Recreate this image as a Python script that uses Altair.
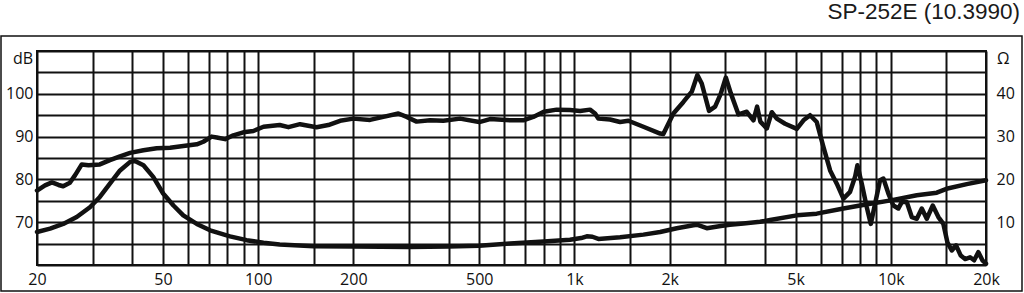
import json
import altair as alt
import pandas as pd

# ---------------- data ----------------
spl_freq = [20, 21.2, 22.3, 23.4, 24.2, 25.4, 26.4, 27.7, 29.1, 31.6, 34, 36.6, 39.4, 43.4,
            47.8, 52.7, 58, 64, 67.1, 71.3, 74, 78.6, 83.5, 89.8, 96.6, 104, 117, 124.7,
            135.7, 153, 166.7, 181.6, 200, 225.8, 248.8, 277.6, 295, 317, 349.6, 385, 435,
            500, 541, 626, 689, 741, 800, 879, 968, 1042, 1120, 1162, 1190, 1296, 1394,
            1481, 1652, 1866, 1910, 2055, 2210, 2349, 2447, 2526, 2664, 2784, 2900, 3010,
            3122, 3298, 3506, 3680, 3780, 3870, 4056, 4206, 4362, 4634, 5046, 5298, 5558,
            5834, 6124, 6430, 6750, 7084, 7436, 7712, 7844, 8098, 8398, 8646, 8920, 9250,
            9476, 9828, 10192, 10568, 10834, 11236, 11652, 12084, 12532, 12996, 13576,
            14142, 14666, 15100, 15590, 16086, 16644, 17174, 17810, 18342, 18924, 19484,
            20000]
spl_db = [77.4, 78.6, 79.3, 78.7, 78.4, 79.2, 81.0, 83.5, 83.3, 83.5, 84.5, 85.4, 86.2, 86.8,
          87.3, 87.4, 87.8, 88.2, 88.8, 90.0, 89.8, 89.4, 90.3, 91.0, 91.3, 92.3, 92.7, 92.2,
          92.9, 92.2, 92.7, 93.7, 94.2, 93.9, 94.6, 95.4, 94.6, 93.5, 93.8, 93.7, 94.2,
          93.4, 94.1, 93.8, 93.8, 94.6, 95.8, 96.3, 96.2, 96.0, 96.3, 95.4, 94.2, 94.0, 93.4,
          93.7, 92.3, 90.7, 90.6, 95.4, 98.1, 100.5, 104.4, 102.4, 96.0, 97.0, 100.0, 103.8,
          100.1, 95.2, 95.8, 93.8, 97.0, 93.5, 91.9, 95.7, 94.2, 93.0, 91.8, 93.8, 95.0,
          93.4, 87.6, 82.1, 79.0, 75.5, 77.1, 80.6, 83.3, 79.0, 73.5, 69.6, 74.3, 79.8,
          80.2, 76.7, 73.9, 73.2, 74.7, 74.7, 71.2, 70.8, 73.2, 70.8, 73.9,
          71.2, 69.6, 65.3, 63.4, 64.6, 62.2, 61.4, 61.8, 61.1, 63.0, 61.1,
          60.3]

imp_freq = [20, 22, 24.2, 26.7, 29.4, 31.6, 34, 36.6, 39.4, 40.8, 43.4, 46.6, 50.1, 54, 58,
            64, 70.5, 81.5, 92, 104, 117, 150, 200, 300, 400, 500, 626, 800, 968, 1050, 1094,
            1140, 1190, 1394, 1652, 1866, 2106, 2377, 2450, 2620, 2900, 3100, 3422, 3862,
            4154, 5046, 5834, 7084, 8000, 10000, 12084, 13980, 15000, 17386, 20000]
imp_ohm = [7.7, 8.5, 9.6, 11.2, 13.5, 15.9, 19.0, 22.1, 24.1, 24.3, 23.3, 20.6, 16.7, 13.9, 11.6,
           9.6, 8.1, 6.7, 5.8, 5.2, 4.8, 4.4, 4.3, 4.2, 4.3, 4.5, 5.0, 5.5, 5.9, 6.3, 6.7,
           6.6, 6.1, 6.5, 7.1, 7.7, 8.6, 9.3, 9.4, 8.6, 9.1, 9.4, 9.7, 10.1,
           10.5, 11.6, 12.0, 13.2, 13.9, 15.1, 16.3, 16.9, 17.8, 18.9, 19.8]

x_grid = [20, 30, 40, 50, 60, 70, 80, 90, 100, 150, 200, 300, 400, 500, 600, 700, 800, 900,
          1000, 1500, 2000, 3000, 4000, 5000, 6000, 7000, 8000, 9000, 10000, 15000, 20000]
x_labelled = [20, 50, 100, 200, 500, 1000, 2000, 5000, 10000, 20000]
db_grid = [60, 65, 70, 75, 80, 85, 90, 95, 100, 105, 110]
db_labelled = [70, 80, 90, 100]
ohm_labelled = [10, 20, 30, 40]
title_text = "SP-252E (10.3990)"

# ---------------- chart ----------------
W, H = 949, 214
INK = "#111111"
LABEL_FONT = "Open Sans"

spl = pd.DataFrame({"f": spl_freq, "v": spl_db})
imp = pd.DataFrame({"f": imp_freq, "v": imp_ohm})

x_scale = alt.Scale(type="log", domain=[20, 20000], nice=False)

x_label_expr = (
    "indexof(" + json.dumps(x_labelled) + ", datum.value) >= 0 ? "
    "(datum.value >= 1000 ? (datum.value / 1000) + 'k' : datum.value + '') : ''"
)
y_label_expr = "indexof(" + json.dumps(db_labelled) + ", datum.value) >= 0 ? datum.label : ''"

spl_line = alt.Chart(spl).mark_line(
    color=INK, strokeWidth=4.5, strokeJoin="round", strokeCap="round"
).encode(
    x=alt.X("f:Q", scale=x_scale, title=None,
            axis=alt.Axis(values=x_grid, labelExpr=x_label_expr, grid=True,
                          labelOverlap=False, labelFlush=False, labelPadding=6)),
    y=alt.Y("v:Q", scale=alt.Scale(domain=[60, 110], nice=False, zero=False), title=None,
            axis=alt.Axis(values=db_grid, labelExpr=y_label_expr, grid=True,
                          labelOverlap=False, labelFlush=False, labelPadding=4)),
)

imp_line = alt.Chart(imp).mark_line(
    color=INK, strokeWidth=4.5, strokeJoin="round", strokeCap="round"
).encode(
    x=alt.X("f:Q", scale=x_scale, title=None),
    y=alt.Y("v:Q", scale=alt.Scale(domain=[0, 50], nice=False, zero=False), title=None,
            axis=alt.Axis(orient="right", values=ohm_labelled, grid=False,
                          labelOverlap=False, labelFlush=False, labelPadding=10,
                          labelAlign="left")),
)

one = pd.DataFrame({"a": [0]})

frame = alt.Chart(one).mark_rect(fill="transparent", stroke=INK, strokeWidth=1.5).encode(
    x=alt.value(-36), x2=alt.value(985), y=alt.value(-15), y2=alt.value(240)
)

db_unit = alt.Chart(one).mark_text(
    text="dB", font=LABEL_FONT, fontSize=16, color=INK, align="right", baseline="alphabetic"
).encode(x=alt.value(-4), y=alt.value(12.5))

ohm_unit = alt.Chart(one).mark_text(
    text="Ω", font=LABEL_FONT, fontSize=16, color=INK, align="left", baseline="alphabetic"
).encode(x=alt.value(W + 11), y=alt.value(12.5))

title = alt.Chart(one).mark_text(
    text=title_text, font="Liberation Sans", fontSize=22.5, color="#1a1a1a",
    align="right", baseline="alphabetic"
).encode(x=alt.value(983), y=alt.value(-32.5))

chart = alt.layer(
    spl_line, imp_line, frame, db_unit, ohm_unit, title
).resolve_scale(
    y="independent"
).properties(
    width=W, height=H,
    autosize=alt.AutoSizeParams(type="none"),
    padding={"left": 37, "top": 51, "right": 38, "bottom": 28},
    background="white",
).configure_view(
    stroke=INK, strokeWidth=2
).configure_axis(
    domain=False, ticks=False, tickSize=0,
    gridColor=INK, gridWidth=2, gridOpacity=1,
    labelFont=LABEL_FONT, labelFontSize=16, labelColor=INK,
)

chart.save("out.html", embed_options={"renderer": "svg", "actions": False})
